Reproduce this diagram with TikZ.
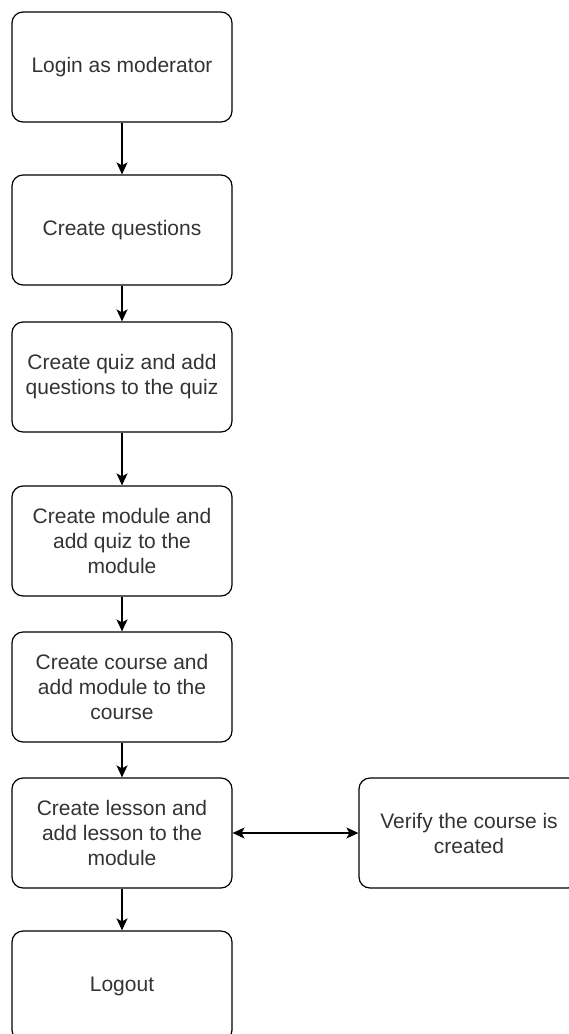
\documentclass[tikz,border=0pt]{standalone}
\usepackage{fontspec}
\setmainfont{Liberation Sans}
\usetikzlibrary{arrows.meta}

\begin{document}
\begin{tikzpicture}[x=1pt, y=-1pt,
  every node/.style={font=\fontsize{21}{25}\selectfont, text=black!80},
  stepbox/.style={draw, rounded corners=11pt, minimum width=220pt, minimum height=110pt, align=center, line width=1.2pt, inner sep=0pt},
  tip/.tip={Stealth[length=12pt, width=11pt, inset=3pt]},
  flow/.style={-tip, line width=1.4pt}]
\useasboundingbox (0,0) rectangle (569,1034);

\node[stepbox] (login) at (122,67) {Login as moderator};
\node[stepbox] (questions) at (122,230) {Create questions};
\node[stepbox] (quiz) at (122,377) {Create quiz and add\\questions to the quiz};
\node[stepbox] (module) at (122,541) {Create module and\\add quiz to the\\module};
\node[stepbox] (course) at (122,687) {Create course and\\add module to the\\course};
\node[stepbox] (lesson) at (122,833) {Create lesson and\\add lesson to the\\module};
\node[stepbox] (logout) at (122,986) {Logout};
\node[stepbox] (verify) at (469,833) {Verify the course is\\created};

\draw[flow] (login) -- (questions);
\draw[flow] (questions) -- (quiz);
\draw[flow] (quiz) -- (module);
\draw[flow] (module) -- (course);
\draw[flow] (course) -- (lesson);
\draw[flow] (lesson) -- (logout);
\draw[flow, tip-tip] (lesson) -- (verify);
\end{tikzpicture}
\end{document}
